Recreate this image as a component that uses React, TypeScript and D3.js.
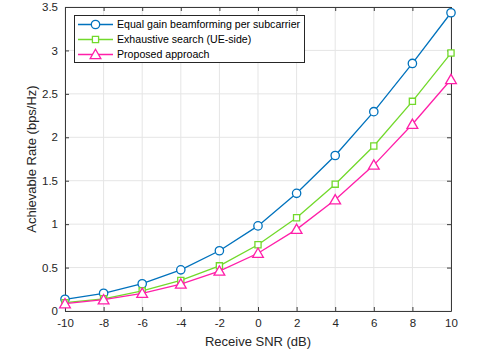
import React, { useEffect, useRef } from 'react';
import * as d3 from 'd3';

// chart values
const snr = [-10, -8, -6, -4, -2, 0, 2, 4, 6, 8, 10];
const equalGain = [0.135, 0.204, 0.314, 0.474, 0.694, 0.98, 1.355, 1.79, 2.295, 2.85, 3.434];
const exhaustive = [0.096, 0.14, 0.232, 0.352, 0.52, 0.763, 1.074, 1.46, 1.9, 2.414, 2.97];
const proposed = [0.084, 0.13, 0.204, 0.31, 0.46, 0.665, 0.94, 1.28, 1.68, 2.15, 2.665];
const xTicks = [-10, -8, -6, -4, -2, 0, 2, 4, 6, 8, 10];
const yTicks = [0, 0.5, 1, 1.5, 2, 2.5, 3, 3.5];
const seriesNames = [
  'Equal gain beamforming per subcarrier',
  'Exhaustive search (UE-side)',
  'Proposed approach',
];

const W = 498;
const H = 353;
const font = 'Liberation Sans, Arial, Helvetica, sans-serif';

export default function App() {
  const ref = useRef<SVGSVGElement>(null);

  useEffect(() => {
    const svg = d3.select(ref.current);
    svg.selectAll('*').remove();

    const left = 65, right = 451, top = 7, bottom = 311;
    const x = d3.scaleLinear().domain([-10, 10]).range([left, right]);
    const y = d3.scaleLinear().domain([0, 3.5]).range([bottom, top]);

    svg.append('rect').attr('width', W).attr('height', H).attr('fill', '#fff');

    // grid
    const grid = svg.append('g').attr('stroke', '#e5e5e5').attr('stroke-width', 1);
    xTicks.forEach((t) => {
      grid.append('line').attr('x1', x(t)).attr('x2', x(t)).attr('y1', top).attr('y2', bottom);
    });
    yTicks.forEach((t) => {
      grid.append('line').attr('x1', left).attr('x2', right).attr('y1', y(t)).attr('y2', y(t));
    });

    // axes with inward ticks (bottom/left labelled, top/right mirror)
    const tl = 4;
    const axB = svg.append('g').attr('transform', `translate(0,${bottom})`)
      .call(d3.axisBottom(x).tickValues(xTicks).tickSizeInner(-tl).tickSizeOuter(0).tickPadding(8).tickFormat((d: any) => String(d)));
    const axL = svg.append('g').attr('transform', `translate(${left},0)`)
      .call(d3.axisLeft(y).tickValues(yTicks).tickSizeInner(-tl).tickSizeOuter(0).tickPadding(7).tickFormat((d: any) => String(d)));
    const axT = svg.append('g').attr('transform', `translate(0,${top})`)
      .call(d3.axisTop(x).tickValues(xTicks).tickSizeInner(-tl).tickSizeOuter(0).tickFormat(() => ''));
    const axR = svg.append('g').attr('transform', `translate(${right},0)`)
      .call(d3.axisRight(y).tickValues(yTicks).tickSizeInner(-tl).tickSizeOuter(0).tickFormat(() => ''));
    [axB, axL, axT, axR].forEach((a) => {
      a.select('.domain').attr('stroke', '#3a3a3a').attr('stroke-width', 1);
      a.selectAll('.tick line').attr('stroke', '#3a3a3a');
      a.selectAll('text').attr('font-family', font).attr('font-size', 11.5).attr('fill', '#262626');
    });

    // series
    const colors = ['#0072bd', '#72d92b', '#ff1fa9'];
    const data = [equalGain, exhaustive, proposed];
    const markers = [d3.symbolCircle, d3.symbolSquare, d3.symbolTriangle];
    const sizes = [55, 38, 50];
    const line = d3.line<number>().x((_, i) => x(snr[i])).y((d) => y(d));

    data.forEach((vals, k) => {
      svg.append('path').attr('d', line(vals)).attr('fill', 'none')
        .attr('stroke', colors[k]).attr('stroke-width', 1.3);
      const sym = d3.symbol().type(markers[k]).size(sizes[k]);
      svg.append('g').selectAll('path').data(vals).join('path')
        .attr('d', sym)
        .attr('transform', (d, i) => `translate(${x(snr[i])},${y(d) + (k === 2 ? 1 : 0)})`)
        .attr('fill', '#fff').attr('stroke', colors[k]).attr('stroke-width', 1.3);
    });

    // legend
    const lg = svg.append('g');
    lg.append('rect').attr('x', 74.5).attr('y', 15.5).attr('width', 230).attr('height', 47)
      .attr('fill', '#fff').attr('stroke', '#262626').attr('stroke-width', 1);
    seriesNames.forEach((name, k) => {
      const yy = 24.5 + k * 15;
      lg.append('line').attr('x1', 78).attr('x2', 113).attr('y1', yy).attr('y2', yy)
        .attr('stroke', colors[k]).attr('stroke-width', 1.3);
      lg.append('path').attr('d', d3.symbol().type(markers[k]).size(sizes[k])())
        .attr('transform', `translate(95.5,${yy + (k === 2 ? 1 : 0)})`)
        .attr('fill', '#fff').attr('stroke', colors[k]).attr('stroke-width', 1.3);
      lg.append('text').attr('x', 117).attr('y', yy).attr('dy', '0.35em')
        .attr('font-family', font).attr('font-size', 10.6).attr('fill', '#000').text(name);
    });

    // axis labels
    svg.append('text').attr('x', (left + right) / 2).attr('y', 346)
      .attr('text-anchor', 'middle').attr('font-family', font).attr('font-size', 13)
      .attr('fill', '#262626').text('Receive SNR (dB)');
    svg.append('text').attr('transform', `translate(36,${(top + bottom) / 2}) rotate(-90)`)
      .attr('text-anchor', 'middle').attr('font-family', font).attr('font-size', 13)
      .attr('fill', '#262626').text('Achievable Rate (bps/Hz)');
  }, []);

  return (
    <svg ref={ref} width={W} height={H} style={{ position: 'absolute', left: 0, top: 0 }} />
  );
}
